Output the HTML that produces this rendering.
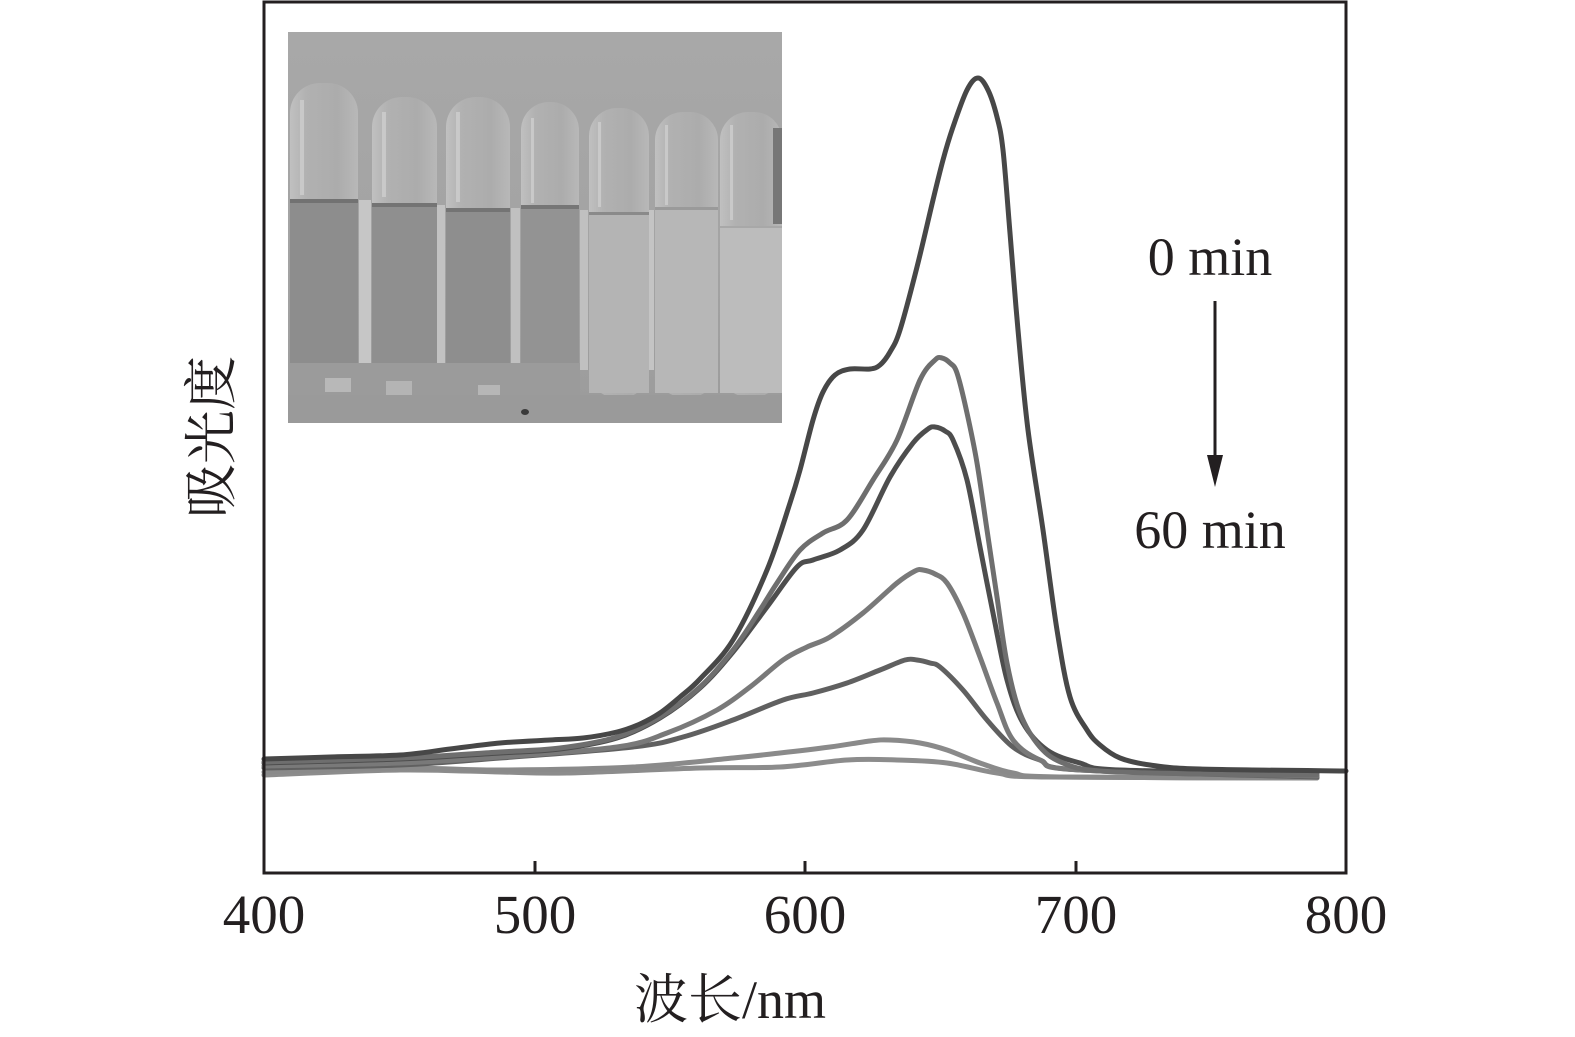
<!DOCTYPE html>
<html>
<head>
<meta charset="utf-8">
<style>
html,body{margin:0;padding:0;background:#fff;}
svg{display:block;}
text{fill:#231f20;}
</style>
</head>
<body>
<svg id="chart" width="1575" height="1037" viewBox="0 0 1575 1037" xmlns="http://www.w3.org/2000/svg">
<defs>
<clipPath id="ic"><rect x="288" y="32" width="494" height="391"/></clipPath>
<linearGradient id="bgG" x1="0" y1="0" x2="0" y2="1">
<stop offset="0" stop-color="#a8a8a8"/>
<stop offset="0.6" stop-color="#a3a3a3"/>
<stop offset="1" stop-color="#9b9b9b"/>
</linearGradient>
<linearGradient id="glass" x1="0" y1="0" x2="1" y2="0">
<stop offset="0" stop-color="#c0c0c0"/>
<stop offset="0.25" stop-color="#b1b1b1"/>
<stop offset="0.7" stop-color="#acacac"/>
<stop offset="1" stop-color="#b8b8b8"/>
</linearGradient>
</defs>

<!-- inset photo -->
<g clip-path="url(#ic)">
<rect x="288" y="32" width="494" height="391" fill="url(#bgG)"/>
<rect x="290" y="83" width="68" height="300" rx="30" fill="url(#glass)"/>
<rect x="372" y="97" width="65" height="290" rx="30" fill="url(#glass)"/>
<rect x="446" y="97" width="64" height="290" rx="30" fill="url(#glass)"/>
<rect x="521" y="102" width="58" height="290" rx="28" fill="url(#glass)"/>
<rect x="589" y="108" width="60" height="290" rx="28" fill="url(#glass)"/>
<rect x="655" y="112" width="63" height="285" rx="28" fill="url(#glass)"/>
<rect x="720" y="112" width="62" height="285" rx="28" fill="url(#glass)"/>
<rect x="359" y="200" width="12" height="168" fill="#c6c6c6"/>
<rect x="437" y="205" width="8" height="160" fill="#c2c2c2"/>
<rect x="511" y="208" width="9" height="160" fill="#c0c0c0"/>
<rect x="580" y="210" width="8" height="160" fill="#c0c0c0"/>
<rect x="649" y="210" width="5" height="160" fill="#c4c4c4"/>
<rect x="290" y="200" width="68" height="163" fill="#8d8d8d"/>
<rect x="372" y="204" width="65" height="160" fill="#8f8f8f"/>
<rect x="446" y="209" width="64" height="156" fill="#8e8e8e"/>
<rect x="521" y="206" width="58" height="158" fill="#939393"/>
<rect x="290" y="363" width="290" height="32" fill="#9b9b9b"/>
<rect x="589" y="213" width="60" height="180" fill="#b4b4b4"/>
<rect x="655" y="208" width="63" height="185" fill="#b7b7b7"/>
<rect x="720" y="228" width="62" height="165" fill="#bcbcbc"/>
<rect x="290" y="199" width="68" height="4" fill="#727272"/>
<rect x="372" y="203" width="65" height="4" fill="#747474"/>
<rect x="446" y="208" width="64" height="4" fill="#747474"/>
<rect x="521" y="205" width="58" height="4" fill="#767676"/>
<rect x="589" y="212" width="60" height="3" fill="#8a8a8a"/>
<rect x="655" y="207" width="63" height="3" fill="#9a9a9a"/>
<rect x="720" y="226" width="62" height="2" fill="#a8a8a8"/>
<rect x="325" y="378" width="26" height="14" fill="#b8b8b8"/>
<rect x="386" y="381" width="26" height="14" fill="#b4b4b4"/>
<rect x="478" y="385" width="22" height="12" fill="#b6b6b6"/>
<rect x="288" y="395" width="494" height="28" fill="#9a9a9a"/>
<ellipse cx="525" cy="412" rx="4" ry="3" fill="#3a3a3a"/>
<rect x="773" y="128" width="9" height="96" fill="#777"/>
<g fill="#d2d2d2" opacity="0.7">
<rect x="300" y="100" width="4" height="95"/>
<rect x="382" y="112" width="4" height="85"/>
<rect x="456" y="112" width="4" height="90"/>
<rect x="531" y="118" width="3" height="85"/>
<rect x="598" y="122" width="3" height="85"/>
<rect x="665" y="125" width="3" height="80"/>
<rect x="730" y="125" width="3" height="95"/>
</g>
</g>

<!-- curves -->
<g id="curves" fill="none" stroke-width="5" stroke-linejoin="round" stroke-linecap="round">
<polyline stroke="#8c8c8c" points="264,775 400,770 500,772 567,773 700,768 780,767 847,760 897,760 947,763 997,773 1047,777 1317,778"/>
<polyline stroke="#8a8a8a" points="264,772 400,768 500,770 633,767 733,758 780,753 830,747 870,741 890,740 920,743 947,750 980,763 1013,773 1060,777 1317,778"/>
<polyline stroke="#606060" points="264,768 400,765 500,758 633,747 683,737 733,720 783,700 813,693 847,683 880,670 905,660 917,660 930,663 940,667 963,690 987,720 1013,747 1040,760 1080,770 1317,777"/>
<polyline stroke="#797979" points="264,766 400,763 500,757 617,747 667,733 717,710 750,687 783,660 807,647 830,637 863,613 897,583 915,571 923,570 935,574 947,583 963,613 980,657 997,703 1013,740 1040,760 1080,770 1317,776"/>
<polyline stroke="#4d4d4d" points="264,763 400,759 500,753 560,749 617,738 660,718 700,688 733,652 767,607 797,567 813,560 840,550 863,530 890,477 913,443 928,429 935,427 945,431 953,440 967,480 980,547 993,613 1007,680 1023,723 1047,750 1080,763 1120,770 1317,773"/>
<polyline stroke="#6e6e6e" points="264,762 400,758 500,752 560,748 617,737 660,717 700,687 733,650 760,610 777,583 800,550 823,533 847,520 873,480 897,440 920,380 935,360 942,358 950,363 957,373 967,413 977,463 987,530 997,597 1007,663 1020,713 1040,747 1063,763 1100,771 1200,774 1317,775"/>
<polyline stroke="#474747" points="264,759 330,757 400,755 450,749 500,743 550,740 583,738 617,732 640,724 660,713 680,697 700,679 733,640 767,570 790,503 800,470 813,420 823,392 835,375 850,369 870,369 880,365 890,352 900,330 917,267 933,200 943,160 953,127 967,90 978,78 988,90 997,117 1003,150 1010,233 1018,330 1028,430 1043,530 1057,630 1070,697 1087,730 1100,745 1120,758 1150,765 1200,769 1346,771"/>
</g>

<!-- axes frame -->
<rect x="264" y="2" width="1082" height="871" fill="none" stroke="#231f20" stroke-width="3"/>
<g stroke="#231f20" stroke-width="3">
<line x1="535" y1="873" x2="535" y2="861"/>
<line x1="805" y1="873" x2="805" y2="861"/>
<line x1="1076" y1="873" x2="1076" y2="861"/>
</g>

<g font-family="'Liberation Serif', serif" font-size="55" text-anchor="middle">
<text x="264" y="933">400</text>
<text x="535" y="933">500</text>
<text x="805" y="933">600</text>
<text x="1076" y="933">700</text>
<text x="1346" y="933">800</text>
</g>

<text x="730" y="1018" font-family="'Liberation Serif', 'Noto Serif CJK SC', serif" font-size="54" text-anchor="middle">波长/nm</text>
<text transform="translate(230,437) rotate(-90)" x="0" y="0" font-family="'Noto Serif CJK SC', 'Liberation Serif', serif" font-size="54" text-anchor="middle">吸光度</text>

<g font-family="'Liberation Serif', serif" font-size="54" text-anchor="middle">
<text x="1210" y="275">0 min</text>
<text x="1210" y="548">60 min</text>
</g>
<line x1="1215" y1="301" x2="1215" y2="460" stroke="#231f20" stroke-width="3"/>
<polygon points="1207,455 1223,455 1215,487" fill="#231f20"/>
</svg>
<script>
(function(){
  var ns="http://www.w3.org/2000/svg";
  var pls=document.querySelectorAll('#curves polyline');
  for(var k=0;k<pls.length;k++){
    var pl=pls[k];
    var raw=pl.getAttribute('points').trim().split(/\s+/);
    var p=raw.map(function(s){var a=s.split(',');return [parseFloat(a[0]),parseFloat(a[1])];});
    var d='M'+p[0][0]+','+p[0][1];
    for(var i=0;i<p.length-1;i++){
      var p0=p[i-1]||p[i], p1=p[i], p2=p[i+1], p3=p[i+2]||p[i+1];
      var t=1/6;
      var c1x=p1[0]+(p2[0]-p0[0])*t, c1y=p1[1]+(p2[1]-p0[1])*t;
      var c2x=p2[0]-(p3[0]-p1[0])*t, c2y=p2[1]-(p3[1]-p1[1])*t;
      d+=' C'+c1x.toFixed(1)+','+c1y.toFixed(1)+' '+c2x.toFixed(1)+','+c2y.toFixed(1)+' '+p2[0]+','+p2[1];
    }
    var path=document.createElementNS(ns,'path');
    path.setAttribute('d',d);
    path.setAttribute('stroke',pl.getAttribute('stroke'));
    pl.parentNode.replaceChild(path,pl);
  }
})();
</script>
</body>
</html>
